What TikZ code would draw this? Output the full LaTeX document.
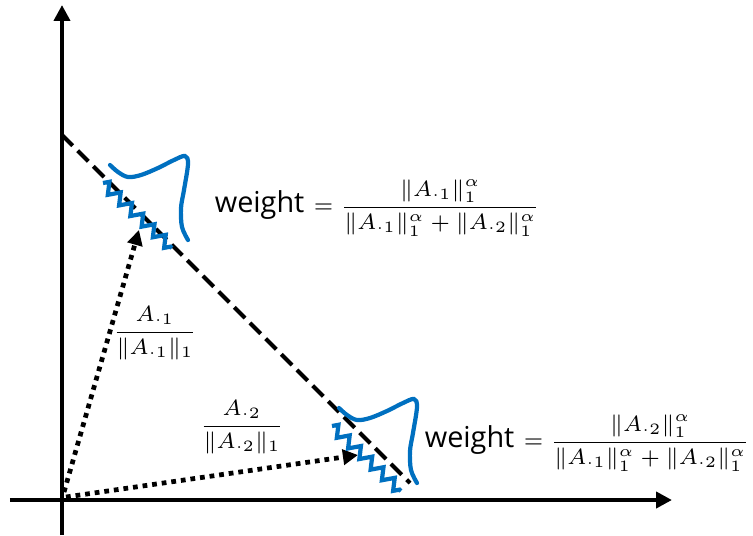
\documentclass[tikz,border=0pt]{standalone}
\usepackage{amsmath}
\usepackage{graphicx}
\usepackage{fontspec}
\newfontfamily\wfont{Open Sans}
\newcommand\wtxtfont{\fontsize{8.2}{10}\selectfont\wfont}
\newcommand\smath[1]{\scalebox{0.9}{#1}}
\usetikzlibrary{arrows.meta,decorations.pathmorphing}
\definecolor{dist}{HTML}{0070C0}

\begin{document}
\begin{tikzpicture}[x=0.01cm,y=-0.01cm,
  axis/.style={line width=1.4pt,-{Triangle[length=4.5pt,width=4.5pt]}},
  vec/.style={line width=1.35pt,dash pattern=on 1.35pt off 1.4pt,-{Triangle[length=4.3pt,width=4.3pt]}},
  simplex/.style={line width=1.15pt,dash pattern=on 4.3pt off 2pt},
  wave/.style={dist,line width=1.2pt,decorate,decoration={zigzag,segment length=4.4pt,amplitude=1.5pt}},
  bump/.style={dist,line width=1.2pt,line cap=round},
  lbl/.style={inner sep=0pt,font=\fontsize{7}{9}\selectfont}]
\useasboundingbox (0,0) rectangle (753,535);
% axes
\coordinate (O) at (62,500);
\coordinate (xs) at (10,500);
\coordinate (xe) at (672,500);
\coordinate (ys) at (62,535);
\coordinate (ye) at (62,5);
\draw[axis] (xs) -- (xe);
\draw[axis] (ys) -- (ye);
% simplex line
\coordinate (top) at (62,135);
\coordinate (bot) at (410,483);
\draw[simplex] (top) -- (bot);
% normalized columns
\coordinate (o1) at (64,492);
\coordinate (o2) at (66,497);
\coordinate (p1) at (139,230);
\coordinate (p2) at (358,455);
\draw[vec] (o1) -- (p1);
\draw[vec] (o2) -- (p2);
% distributions
\foreach \dx/\dy in {0/0,229/243}{
  \begin{scope}[shift={(\dx,\dy)}]
    \draw[wave] (103,183) -- (172,248);
    \draw[bump] plot[smooth,tension=0.55] coordinates {(110,165) (118,172) (128,177) (141,175) (158,168) (174,160) (185,156) (188,164) (184,190) (181,208) (182,227) (188,240)};
  \end{scope}
}
% labels
\node[lbl] (n1) at (155,333) {\smath{$\dfrac{A_{\cdot 1}}{\|A_{\cdot 1}\|_1}$}};
\node[lbl] (n2) at (242,427) {\smath{$\dfrac{A_{\cdot 2}}{\|A_{\cdot 2}\|_1}$}};
\node[lbl,anchor=east] (w1) at (541,208) {{\wtxtfont weight} \smath{$=\dfrac{\|A_{\cdot 1}\|_1^\alpha}{\|A_{\cdot 1}\|_1^\alpha+\|A_{\cdot 2}\|_1^\alpha}$}};
\node[lbl,anchor=east] (w2) at (751,443) {{\wtxtfont weight} \smath{$=\dfrac{\|A_{\cdot 2}\|_1^\alpha}{\|A_{\cdot 1}\|_1^\alpha+\|A_{\cdot 2}\|_1^\alpha}$}};
\end{tikzpicture}
\end{document}
